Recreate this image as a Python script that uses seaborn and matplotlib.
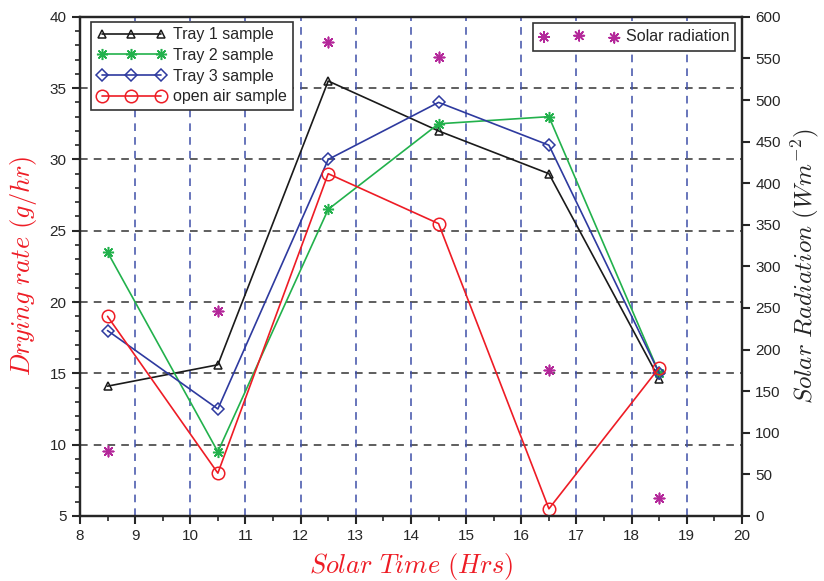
import matplotlib
matplotlib.use("Agg")
import numpy as np
import pandas as pd
import matplotlib.pyplot as plt
import seaborn as sns
from matplotlib.ticker import MultipleLocator

sns.set_style("ticks")
plt.rcParams['font.family'] = ['Liberation Sans', 'DejaVu Sans']
plt.rcParams['mathtext.fontset'] = 'cm'

# data
solar_time = [8.5, 10.5, 12.5, 14.5, 16.5, 18.5]
tray1 = [14.1, 15.6, 35.5, 32.0, 29.0, 14.6]
tray2 = [23.5, 9.5, 26.5, 32.5, 33.0, 15.0]
tray3 = [18.0, 12.5, 30.0, 34.0, 31.0, 15.0]
open_air = [19.0, 8.0, 29.0, 25.5, 5.5, 15.4]
solar_rad = [78, 246, 570, 552, 175, 22]

asterisk = (8, 2, 0)

fig = plt.figure(figsize=(8.24, 5.81), dpi=100)
ax = fig.add_axes([0.097, 0.112, 0.8035, 0.859])

series = [
    ("Tray 1 sample", tray1, "#1a1a1a", "^", 6),
    ("Tray 2 sample", tray2, "#22b14c", asterisk, 8),
    ("Tray 3 sample", tray3, "#2e3a9f", "D", 6),
    ("open air sample", open_air, "#ee1c25", "o", 9),
]
for label, vals, col, mk, ms in series:
    df = pd.DataFrame({"t": solar_time, "v": vals})
    sns.lineplot(data=df, x="t", y="v", ax=ax, color=col, marker=mk,
                 markersize=ms, markerfacecolor="none" if mk != asterisk else col,
                 markeredgecolor=col, markeredgewidth=1.1, linewidth=1.2,
                 label=label, sort=False)

ax.set_xlim(8, 20)
ax.set_ylim(5, 40)
ax.xaxis.set_major_locator(MultipleLocator(1))
ax.xaxis.set_minor_locator(MultipleLocator(0.5))
ax.yaxis.set_major_locator(MultipleLocator(5))
ax.yaxis.set_minor_locator(MultipleLocator(1))
ax.tick_params(which='major', direction='out', length=6, width=1.5, labelsize=11)
ax.tick_params(which='minor', direction='out', length=3.5, width=1.2)
for sp in ax.spines.values():
    sp.set_linewidth(1.6)

# dashed grid: black horizontal, blue vertical
for yv in range(10, 40, 5):
    ax.axhline(yv, color="#333333", ls=(0, (5, 4)), lw=1.1, zorder=0)
for xv in range(9, 20):
    ax.axvline(xv, color="#3f4fa8", ls=(0, (5, 4)), lw=1.1, zorder=0)

ax.set_xlabel(r"$Solar\ Time\ (Hrs)$", color="#ee1c25", fontsize=19, labelpad=6)
ax.set_ylabel(r"$Drying\ rate\ (g/hr)$", color="#ee1c25", fontsize=19, labelpad=8)

leg1 = ax.legend(loc="upper left", bbox_to_anchor=(0.017, 0.99), numpoints=3,
                 handlelength=4.3, fontsize=11.5, frameon=True, fancybox=False,
                 edgecolor="#333333", framealpha=1, borderpad=0.35,
                 labelspacing=0.35, handletextpad=0.5, borderaxespad=0)
leg1.get_frame().set_linewidth(1.2)

ax2 = ax.twinx()
sdf = pd.DataFrame({"t": solar_time, "r": solar_rad})
sns.scatterplot(data=sdf, x="t", y="r", ax=ax2, marker=asterisk, s=55,
                color="#b4289a", edgecolor="#b4289a", linewidth=1.2,
                label="Solar radiation")
ax2.set_ylim(0, 600)
ax2.yaxis.set_major_locator(MultipleLocator(50))
ax2.tick_params(which='major', direction='out', length=6, width=1.5, labelsize=11)
ax2.set_ylabel(r"$Solar\ Radiation\ (Wm^{-2})$", fontsize=18, labelpad=6)
ax2.set_xlabel("")
for sp in ax2.spines.values():
    sp.set_linewidth(1.6)
leg2 = ax2.legend(loc="upper right", bbox_to_anchor=(0.99, 0.988), scatterpoints=3,
                  handlelength=5.0, fontsize=11.5, frameon=True, fancybox=False,
                  edgecolor="#333333", framealpha=1, borderpad=0.4,
                  handletextpad=0.4, borderaxespad=0)
leg2.get_frame().set_linewidth(1.2)

fig.savefig("out.png", dpi=100)
